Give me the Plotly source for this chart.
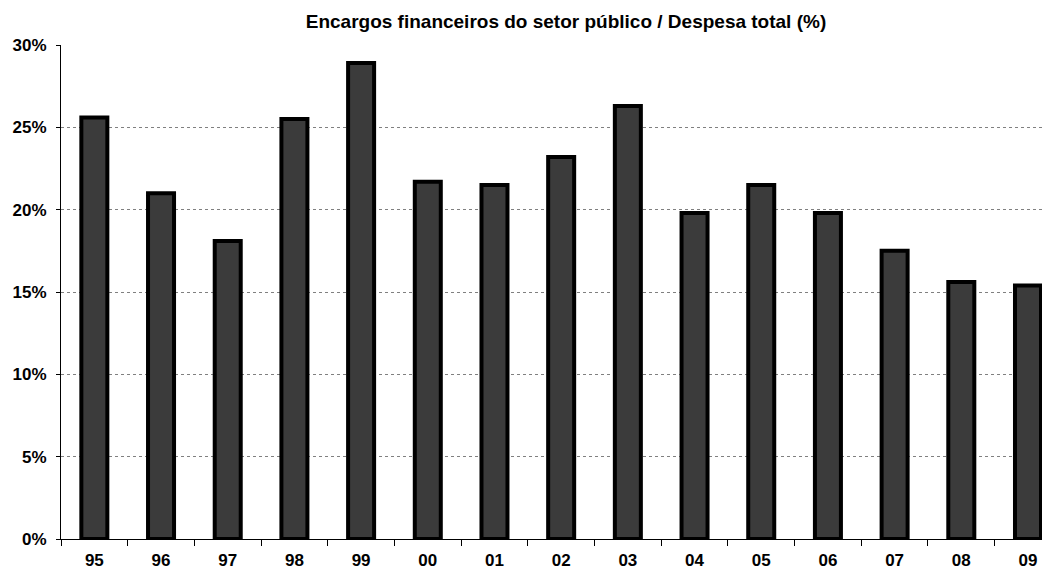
import plotly.graph_objects as go

# anos (dois dígitos) e encargos financeiros / despesa total, em %
ANOS = ["95", "96", "97", "98", "99", "00", "01", "02", "03", "04", "05", "06", "07", "08", "09"]
ENCARGOS = [25.6, 21.0, 18.1, 25.5, 28.9, 21.7, 21.5, 23.2, 26.3, 19.8, 21.5, 19.8, 17.5, 15.6, 15.4]
Y_TICKS = [0, 5, 10, 15, 20, 25, 30]

FONT = "Liberation Sans, Arial, sans-serif"

fig = go.Figure(go.Bar(
    x=ANOS, y=ENCARGOS, width=0.39,
    marker=dict(color="#3b3b3b", line=dict(color="#000000", width=4)),
    hoverinfo="x+y",
))

# a página tem 8px de margem no body, por isso a figura é um pouco menor
fig.update_layout(
    width=1042, height=562,
    margin=dict(l=53, r=0, t=37, b=31),
    paper_bgcolor="white", plot_bgcolor="white",
    showlegend=False,
    font=dict(family=FONT, color="black"),
    title=dict(text="<b>Encargos financeiros do setor público / Despesa total (%)</b>",
               x=0.5355, xanchor="center", y=0.977, yanchor="middle",
               font=dict(size=19, family=FONT, color="black")),
)

fig.update_xaxes(
    type="category", range=[-0.5, 14.33],
    tickson="boundaries", ticks="outside", ticklen=6, tickcolor="black", tickwidth=1,
    showline=True, linecolor="black", linewidth=1,
    showgrid=False,
    tickfont=dict(size=17, family=FONT, color="black"),
    tickprefix="<b>", ticksuffix="</b>",
    ticklabelstandoff=6,
)

fig.update_yaxes(
    range=[0, 30], tickvals=Y_TICKS,
    ticktext=[f"<b>{v}%</b>" for v in Y_TICKS],
    ticks="outside", ticklen=4, tickcolor="black",
    showline=True, linecolor="black", linewidth=1,
    showgrid=True, gridcolor="#808080", griddash="dot", gridwidth=1,
    zeroline=False,
    tickfont=dict(size=17, family=FONT, color="black"),
    ticklabelstandoff=6,
)

fig.write_html("out.html")
